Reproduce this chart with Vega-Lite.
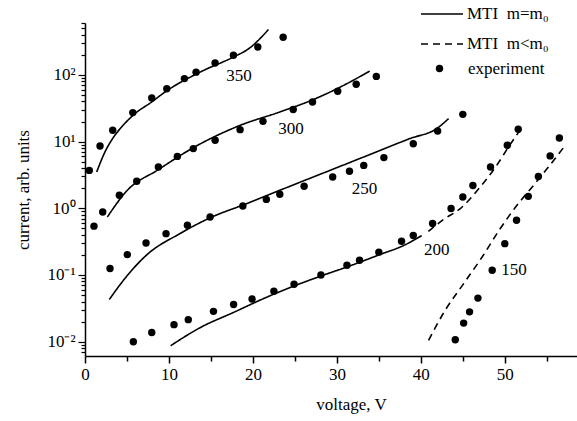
{
  "$schema": "https://vega.github.io/schema/vega-lite/v6.json",
  "width": 492,
  "height": 333,
  "autosize": {"type": "none"},
  "padding": {"left": 85, "top": 23, "right": 0, "bottom": 65},
  "background": "white",
  "config": {"view": {"stroke": null}, "font": "Liberation Serif"},
  "datasets": {
    "curves": [
      {"curve": "350", "model": "MTI\u00a0\u00a0m=m\u2080", "x": 1.39, "y": 3.5},
      {"curve": "350", "model": "MTI\u00a0\u00a0m=m\u2080", "x": 2.38, "y": 7.0},
      {"curve": "350", "model": "MTI\u00a0\u00a0m=m\u2080", "x": 3.37, "y": 11.5},
      {"curve": "350", "model": "MTI\u00a0\u00a0m=m\u2080", "x": 4.37, "y": 16.6},
      {"curve": "350", "model": "MTI\u00a0\u00a0m=m\u2080", "x": 5.96, "y": 26.3},
      {"curve": "350", "model": "MTI\u00a0\u00a0m=m\u2080", "x": 7.95, "y": 39.3},
      {"curve": "350", "model": "MTI\u00a0\u00a0m=m\u2080", "x": 9.54, "y": 55.5},
      {"curve": "350", "model": "MTI\u00a0\u00a0m=m\u2080", "x": 13.7, "y": 110},
      {"curve": "350", "model": "MTI\u00a0\u00a0m=m\u2080", "x": 17.7, "y": 186},
      {"curve": "350", "model": "MTI\u00a0\u00a0m=m\u2080", "x": 19.5, "y": 247},
      {"curve": "350", "model": "MTI\u00a0\u00a0m=m\u2080", "x": 21.85, "y": 479},
      {"curve": "300", "model": "MTI\u00a0\u00a0m=m\u2080", "x": 2.66, "y": 0.74},
      {"curve": "300", "model": "MTI\u00a0\u00a0m=m\u2080", "x": 4.97, "y": 1.82},
      {"curve": "300", "model": "MTI\u00a0\u00a0m=m\u2080", "x": 8.74, "y": 3.8},
      {"curve": "300", "model": "MTI\u00a0\u00a0m=m\u2080", "x": 12.9, "y": 8.1},
      {"curve": "300", "model": "MTI\u00a0\u00a0m=m\u2080", "x": 18.47, "y": 17.5},
      {"curve": "300", "model": "MTI\u00a0\u00a0m=m\u2080", "x": 23.2, "y": 27.8},
      {"curve": "300", "model": "MTI\u00a0\u00a0m=m\u2080", "x": 27.2, "y": 42.7},
      {"curve": "300", "model": "MTI\u00a0\u00a0m=m\u2080", "x": 31.2, "y": 74},
      {"curve": "300", "model": "MTI\u00a0\u00a0m=m\u2080", "x": 33.9, "y": 114},
      {"curve": "250", "model": "MTI\u00a0\u00a0m=m\u2080", "x": 2.9, "y": 0.043},
      {"curve": "250", "model": "MTI\u00a0\u00a0m=m\u2080", "x": 4.57, "y": 0.083},
      {"curve": "250", "model": "MTI\u00a0\u00a0m=m\u2080", "x": 7.35, "y": 0.2},
      {"curve": "250", "model": "MTI\u00a0\u00a0m=m\u2080", "x": 11.3, "y": 0.417},
      {"curve": "250", "model": "MTI\u00a0\u00a0m=m\u2080", "x": 14.9, "y": 0.72},
      {"curve": "250", "model": "MTI\u00a0\u00a0m=m\u2080", "x": 19.3, "y": 1.18},
      {"curve": "250", "model": "MTI\u00a0\u00a0m=m\u2080", "x": 23.2, "y": 1.86},
      {"curve": "250", "model": "MTI\u00a0\u00a0m=m\u2080", "x": 30.0, "y": 4.07},
      {"curve": "250", "model": "MTI\u00a0\u00a0m=m\u2080", "x": 34.0, "y": 6.45},
      {"curve": "250", "model": "MTI\u00a0\u00a0m=m\u2080", "x": 38.7, "y": 11.1},
      {"curve": "250", "model": "MTI\u00a0\u00a0m=m\u2080", "x": 41.9, "y": 15.7},
      {"curve": "250", "model": "MTI\u00a0\u00a0m=m\u2080", "x": 43.3, "y": 22.1},
      {"curve": "200", "model": "MTI\u00a0\u00a0m=m\u2080", "x": 10.2, "y": 0.0087},
      {"curve": "200", "model": "MTI\u00a0\u00a0m=m\u2080", "x": 13.7, "y": 0.0162},
      {"curve": "200", "model": "MTI\u00a0\u00a0m=m\u2080", "x": 17.7, "y": 0.0275},
      {"curve": "200", "model": "MTI\u00a0\u00a0m=m\u2080", "x": 21.7, "y": 0.0468},
      {"curve": "200", "model": "MTI\u00a0\u00a0m=m\u2080", "x": 25.0, "y": 0.0692},
      {"curve": "200", "model": "MTI\u00a0\u00a0m=m\u2080", "x": 28.0, "y": 0.0955},
      {"curve": "200", "model": "MTI\u00a0\u00a0m=m\u2080", "x": 31.2, "y": 0.132},
      {"curve": "200", "model": "MTI\u00a0\u00a0m=m\u2080", "x": 35.2, "y": 0.204},
      {"curve": "200", "model": "MTI\u00a0\u00a0m=m\u2080", "x": 37.9, "y": 0.275},
      {"curve": "200", "model": "MTI\u00a0\u00a0m=m\u2080", "x": 40.1, "y": 0.389},
      {"curve": "200d", "model": "MTI\u00a0\u00a0m<m\u2080", "x": 40.9, "y": 0.45},
      {"curve": "200d", "model": "MTI\u00a0\u00a0m<m\u2080", "x": 42.7, "y": 0.68},
      {"curve": "200d", "model": "MTI\u00a0\u00a0m<m\u2080", "x": 44.7, "y": 0.99},
      {"curve": "200d", "model": "MTI\u00a0\u00a0m<m\u2080", "x": 46.9, "y": 1.97},
      {"curve": "200d", "model": "MTI\u00a0\u00a0m<m\u2080", "x": 48.9, "y": 4.16},
      {"curve": "200d", "model": "MTI\u00a0\u00a0m<m\u2080", "x": 50.7, "y": 9.3},
      {"curve": "200d", "model": "MTI\u00a0\u00a0m<m\u2080", "x": 52.1, "y": 16.6},
      {"curve": "150d", "model": "MTI\u00a0\u00a0m<m\u2080", "x": 40.92, "y": 0.0105},
      {"curve": "150d", "model": "MTI\u00a0\u00a0m<m\u2080", "x": 42.9, "y": 0.0296},
      {"curve": "150d", "model": "MTI\u00a0\u00a0m<m\u2080", "x": 45.1, "y": 0.0743},
      {"curve": "150d", "model": "MTI\u00a0\u00a0m<m\u2080", "x": 47.3, "y": 0.186},
      {"curve": "150d", "model": "MTI\u00a0\u00a0m<m\u2080", "x": 49.46, "y": 0.497},
      {"curve": "150d", "model": "MTI\u00a0\u00a0m<m\u2080", "x": 51.45, "y": 1.11},
      {"curve": "150d", "model": "MTI\u00a0\u00a0m<m\u2080", "x": 53.43, "y": 2.21},
      {"curve": "150d", "model": "MTI\u00a0\u00a0m<m\u2080", "x": 55.2, "y": 4.16},
      {"curve": "150d", "model": "MTI\u00a0\u00a0m<m\u2080", "x": 57.2, "y": 8.8}
    ],
    "points": [
      {"source": "experiment", "x": 0.51, "y": 3.7},
      {"source": "experiment", "x": 1.79, "y": 8.6},
      {"source": "experiment", "x": 3.30, "y": 14.8},
      {"source": "experiment", "x": 5.69, "y": 27.2},
      {"source": "experiment", "x": 7.95, "y": 45},
      {"source": "experiment", "x": 9.74, "y": 62},
      {"source": "experiment", "x": 11.84, "y": 88},
      {"source": "experiment", "x": 13.23, "y": 110},
      {"source": "experiment", "x": 15.49, "y": 151},
      {"source": "experiment", "x": 17.68, "y": 197},
      {"source": "experiment", "x": 20.58, "y": 262},
      {"source": "experiment", "x": 23.6, "y": 366},
      {"source": "experiment", "x": 1.07, "y": 0.54},
      {"source": "experiment", "x": 2.11, "y": 0.88},
      {"source": "experiment", "x": 4.09, "y": 1.57},
      {"source": "experiment", "x": 6.16, "y": 2.54},
      {"source": "experiment", "x": 8.74, "y": 4.17},
      {"source": "experiment", "x": 11.0, "y": 6.0},
      {"source": "experiment", "x": 12.9, "y": 7.85},
      {"source": "experiment", "x": 15.5, "y": 10.5},
      {"source": "experiment", "x": 18.47, "y": 15.1},
      {"source": "experiment", "x": 21.2, "y": 20.1},
      {"source": "experiment", "x": 24.8, "y": 30.2},
      {"source": "experiment", "x": 27.1, "y": 39.3},
      {"source": "experiment", "x": 30.1, "y": 56.8},
      {"source": "experiment", "x": 32.3, "y": 72.4},
      {"source": "experiment", "x": 34.7, "y": 95},
      {"source": "experiment", "x": 2.98, "y": 0.125},
      {"source": "experiment", "x": 5.04, "y": 0.202},
      {"source": "experiment", "x": 7.27, "y": 0.302},
      {"source": "experiment", "x": 9.65, "y": 0.417},
      {"source": "experiment", "x": 12.2, "y": 0.556},
      {"source": "experiment", "x": 14.9, "y": 0.74},
      {"source": "experiment", "x": 18.8, "y": 1.08},
      {"source": "experiment", "x": 21.6, "y": 1.36},
      {"source": "experiment", "x": 23.2, "y": 1.62},
      {"source": "experiment", "x": 26.1, "y": 2.14},
      {"source": "experiment", "x": 29.5, "y": 2.95},
      {"source": "experiment", "x": 31.5, "y": 3.6},
      {"source": "experiment", "x": 33.2, "y": 4.4},
      {"source": "experiment", "x": 35.6, "y": 5.75},
      {"source": "experiment", "x": 39.1, "y": 9.3},
      {"source": "experiment", "x": 42.0, "y": 14.4},
      {"source": "experiment", "x": 45.0, "y": 25.6},
      {"source": "experiment", "x": 5.76, "y": 0.01},
      {"source": "experiment", "x": 7.95, "y": 0.0137},
      {"source": "experiment", "x": 10.6, "y": 0.018},
      {"source": "experiment", "x": 12.3, "y": 0.0214},
      {"source": "experiment", "x": 15.3, "y": 0.0285},
      {"source": "experiment", "x": 17.7, "y": 0.036},
      {"source": "experiment", "x": 19.9, "y": 0.0436},
      {"source": "experiment", "x": 22.5, "y": 0.057},
      {"source": "experiment", "x": 24.9, "y": 0.0725},
      {"source": "experiment", "x": 28.1, "y": 0.1},
      {"source": "experiment", "x": 31.2, "y": 0.14},
      {"source": "experiment", "x": 32.7, "y": 0.166},
      {"source": "experiment", "x": 35.0, "y": 0.22},
      {"source": "experiment", "x": 37.7, "y": 0.32},
      {"source": "experiment", "x": 39.1, "y": 0.39},
      {"source": "experiment", "x": 41.4, "y": 0.59},
      {"source": "experiment", "x": 43.6, "y": 0.99},
      {"source": "experiment", "x": 45.0, "y": 1.48},
      {"source": "experiment", "x": 46.2, "y": 2.2},
      {"source": "experiment", "x": 48.3, "y": 4.17},
      {"source": "experiment", "x": 50.3, "y": 8.8},
      {"source": "experiment", "x": 51.6, "y": 15.3},
      {"source": "experiment", "x": 44.1, "y": 0.0107},
      {"source": "experiment", "x": 45.1, "y": 0.019},
      {"source": "experiment", "x": 45.8, "y": 0.028},
      {"source": "experiment", "x": 46.8, "y": 0.045},
      {"source": "experiment", "x": 48.5, "y": 0.118},
      {"source": "experiment", "x": 50.0, "y": 0.295},
      {"source": "experiment", "x": 51.4, "y": 0.66},
      {"source": "experiment", "x": 52.8, "y": 1.51},
      {"source": "experiment", "x": 54.0, "y": 3.0},
      {"source": "experiment", "x": 55.4, "y": 6.1},
      {"source": "experiment", "x": 56.5, "y": 11.3}
    ],
    "labels": [
      {"label": "350", "x": 18.33, "y": 95.3},
      {"label": "300", "x": 24.55, "y": 15.7},
      {"label": "250", "x": 33.28, "y": 1.97},
      {"label": "200", "x": 41.9, "y": 0.24},
      {"label": "150", "x": 51.1, "y": 0.1175}
    ]
  },
  "layer": [
    {
      "data": {"name": "curves"},
      "mark": {"type": "line", "color": "black", "strokeWidth": 1.6, "interpolate": "monotone"},
      "encoding": {
        "x": {
          "field": "x", "type": "quantitative",
          "scale": {"domain": [0, 58.6], "nice": false, "zero": false},
          "axis": {
            "title": "voltage, V",
            "values": [0, 5, 10, 15, 20, 25, 30, 35, 40, 45, 50, 55],
            "labelExpr": "datum.value % 10 === 0 ? format(datum.value, 'd') : ''",
            "tickSize": {"condition": {"test": "datum.value % 10 === 0", "value": 7}, "value": 5},
            "grid": false,
            "domainColor": "black", "domainWidth": 1.5,
            "tickColor": "black", "tickWidth": 1.5,
            "labelFont": "Liberation Serif", "labelFontSize": 17, "labelColor": "black", "labelPadding": 3,
            "labelFlush": false,
            "titleFont": "Liberation Serif", "titleFontSize": 17, "titleFontWeight": "normal", "titleColor": "black",
            "titleX": 266, "titleAlign": "center", "titlePadding": 14
          }
        },
        "y": {
          "field": "y", "type": "quantitative",
          "scale": {"type": "log", "domain": [0.0061, 600], "nice": false},
          "axis": {
            "title": "current, arb. units",
            "values": [0.007, 0.008, 0.009, 0.01, 0.02, 0.03, 0.04, 0.05, 0.06, 0.07, 0.08, 0.09, 0.1, 0.2, 0.3, 0.4, 0.5, 0.6, 0.7, 0.8, 0.9, 1, 2, 3, 4, 5, 6, 7, 8, 9, 10, 20, 30, 40, 50, 60, 70, 80, 90, 100, 200, 300, 400, 500, 600],
            "labelExpr": "abs(log(datum.value)/LN10 - round(log(datum.value)/LN10)) < 1e-6 ? ['10\u207b\u00b2','10\u207b\u00b9','10\u2070','10\u00b9','10\u00b2'][round(log(datum.value)/LN10) + 2] : ''",
            "tickSize": {"condition": {"test": "abs(log(datum.value)/LN10 - round(log(datum.value)/LN10)) < 1e-6", "value": 7}, "value": 4},
            "grid": false,
            "domainColor": "black", "domainWidth": 1.5,
            "tickColor": "black", "tickWidth": 1.2,
            "labelFont": "Liberation Serif", "labelFontSize": 17, "labelColor": "black", "labelPadding": 3,
            "labelFlush": false, "labelOverlap": false,
            "titleFont": "Liberation Serif", "titleFontSize": 17, "titleFontWeight": "normal", "titleColor": "black",
            "titlePadding": 14
          }
        },
        "detail": {"field": "curve"},
        "strokeDash": {
          "field": "model", "type": "nominal",
          "scale": {"domain": ["MTI\u00a0\u00a0m=m\u2080", "MTI\u00a0\u00a0m<m\u2080"], "range": [[1, 0], [7, 5]]},
          "legend": {
            "title": null, "orient": "none", "legendX": 335, "legendY": -31,
            "symbolSize": 1764, "symbolStrokeWidth": 1.6, "symbolStrokeColor": "black",
            "labelFont": "Liberation Serif", "labelFontSize": 17, "labelColor": "black", "labelOffset": 3,
            "rowPadding": -2, "padding": 0
          }
        }
      }
    },
    {
      "data": {"name": "points"},
      "mark": {"type": "point", "filled": true, "color": "black", "size": 55, "opacity": 1},
      "encoding": {
        "x": {"field": "x", "type": "quantitative"},
        "y": {"field": "y", "type": "quantitative"},
        "shape": {
          "field": "source", "type": "nominal",
          "scale": {"domain": ["experiment"], "range": ["circle"]},
          "legend": {
            "title": null, "orient": "none", "legendX": 346, "legendY": 37,
            "symbolSize": 55, "symbolFillColor": "black", "symbolStrokeColor": "black", "symbolOpacity": 1,
            "labelFont": "Liberation Serif", "labelFontSize": 17, "labelColor": "black", "labelOffset": 20,
            "padding": 0
          }
        }
      }
    },
    {
      "data": {"name": "labels"},
      "mark": {"type": "text", "font": "Liberation Serif", "fontSize": 17, "color": "black", "align": "center", "baseline": "middle"},
      "encoding": {
        "x": {"field": "x", "type": "quantitative"},
        "y": {"field": "y", "type": "quantitative"},
        "text": {"field": "label"}
      }
    }
  ]
}
